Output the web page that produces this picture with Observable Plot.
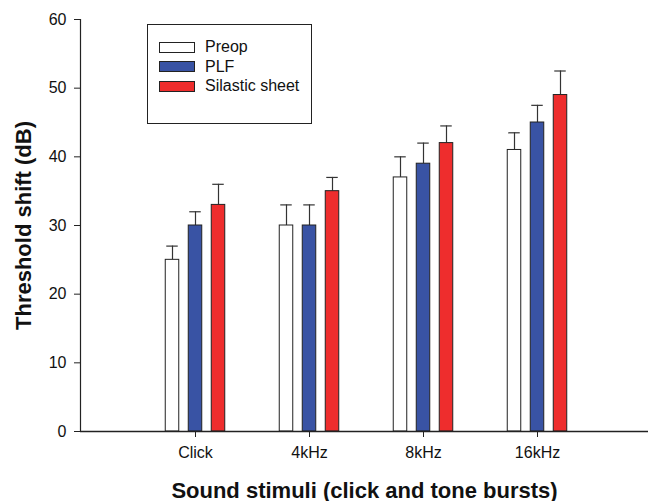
<!DOCTYPE html>
<html>
<head>
<meta charset="utf-8">
<script src="https://cdn.jsdelivr.net/npm/d3@7"></script>
<script src="https://cdn.jsdelivr.net/npm/@observablehq/plot@0.6"></script>
<style>
  html, body { margin: 0; padding: 0; background: #fff; }
  #wrap { position: relative; width: 648px; height: 501px; font-family: "Liberation Sans", Arial, sans-serif; }
  #legend { position: absolute; left: 147px; top: 24px; width: 163px; height: 98px; border: 1px solid #222; background: #fff; }
  .row { position: absolute; left: 11px; height: 20px; display: flex; align-items: center; font-size: 16px; color: #111; }
  .sw { width: 34px; height: 9px; border: 1px solid #222; margin-right: 10px; }
  [aria-label="x-axis label"] text, [aria-label="y-axis label"] text { font-weight: bold; font-size: 22px; }
  [aria-label="x-axis tick label"] text, [aria-label="y-axis tick label"] text { font-size: 16px; }
</style>
</head>
<body>
<div id="wrap"></div>
<script>
const categories = ["Click", "4kHz", "8kHz", "16kHz"];
const seriesNames = ["Preop", "PLF", "Silastic sheet"];
const preop = [25, 30, 37, 41];
const preopErr = [2, 3, 3, 2.5];
const plf = [30, 30, 39, 45];
const plfErr = [2, 3, 3, 2.5];
const silastic = [33, 35, 42, 49];
const silasticErr = [3, 2, 2.5, 3.5];
const yTicks = [0, 10, 20, 30, 40, 50, 60];
const colors = ["#ffffff", "#3953a4", "#ee2d2d"];

const seriesValues = [preop, plf, silastic];
const seriesErrs = [preopErr, plfErr, silasticErr];
const offsets = [-23, 0, 23];

const marks = [];
seriesValues.forEach((vals, s) => {
  const rows = categories.map((c, i) => ({category: c, value: vals[i], upper: vals[i] + seriesErrs[s][i]}));
  marks.push(Plot.ruleX(rows, {x: "category", y1: "value", y2: "upper", dx: offsets[s], stroke: "#333", strokeWidth: 1.2}));
  marks.push(Plot.tickY(rows, {x: "category", y: "upper", dx: offsets[s], insetLeft: 51.25, insetRight: 51.25, stroke: "#333", strokeWidth: 1.2}));
  marks.push(Plot.barY(rows, {x: "category", y: "value", dx: offsets[s], insetLeft: 50.25, insetRight: 50.25, fill: colors[s], stroke: "#222", strokeWidth: 1}));
});

const chart = Plot.plot({
  width: 648,
  height: 501,
  marginLeft: 80,
  marginRight: 0,
  marginTop: 19,
  marginBottom: 70,
  style: {fontFamily: "'Liberation Sans', Arial, sans-serif", fontSize: "16px", color: "#111", background: "#fff"},
  x: {type: "band", domain: categories, range: [136.75, 594.75], padding: 0},
  y: {domain: [0, 60]},
  marks: [
    ...marks,
    Plot.frame({anchor: "left", stroke: "#222", strokeWidth: 1.2}),
    Plot.ruleY([0], {stroke: "#222", strokeWidth: 1.5}),
    Plot.axisY({ticks: yTicks, tickSize: 6, tickPadding: 8, stroke: "#222", label: "Threshold shift (dB)", labelAnchor: "center", labelArrow: "none", labelOffset: 65, fontSize: 16}),
    Plot.axisX({tickSize: 6, tickPadding: 9, stroke: "#222", label: "Sound stimuli (click and tone bursts)", labelAnchor: "center", labelArrow: "none", labelOffset: 66, fontSize: 16})
  ]
});
const wrap = document.getElementById("wrap");
wrap.appendChild(chart);

const legend = document.createElement("div");
legend.id = "legend";
const rowTops = [12, 31.5, 51];
seriesNames.forEach((name, i) => {
  const row = document.createElement("div");
  row.className = "row";
  row.style.top = rowTops[i] + "px";
  const sw = document.createElement("div");
  sw.className = "sw";
  sw.style.background = colors[i];
  row.appendChild(sw);
  row.appendChild(document.createTextNode(name));
  legend.appendChild(row);
});
wrap.appendChild(legend);
</script>
</body>
</html>
